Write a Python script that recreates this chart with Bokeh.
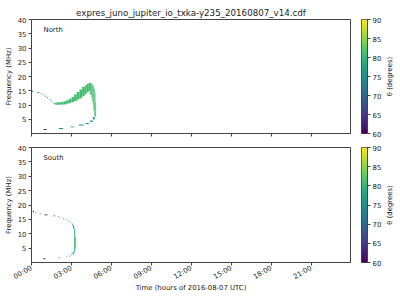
import math
import numpy as np
from bokeh.plotting import figure
from bokeh.models import (ColumnDataSource, Range1d, LinearColorMapper, FixedTicker, Label)
from bokeh.layouts import column, row
from bokeh.palettes import Viridis256
from bokeh.transform import transform
from bokeh.embed import file_html
from bokeh.resources import INLINE

TITLE = "expres_juno_jupiter_io_txka-y235_20160807_v14.cdf"
X_LABEL = "Time (hours of 2016-08-07 UTC)"
Y_LABEL = "Frequency (MHz)"
CB_LABEL = "\u03b8 (degrees)"
hour_ticks = [0, 3, 6, 9, 12, 15, 18, 21]
hour_labels = ["00:00", "03:00", "06:00", "09:00", "12:00", "15:00", "18:00", "21:00"]
freq_ticks = [5, 10, 15, 20, 25, 30, 35, 40]
theta_ticks = [60, 65, 70, 75, 80, 85, 90]
time_range = [0.0, 23.95]
freq_range = [0.0, 40.0]
theta_range = [60.0, 90.0]

# North hemisphere emission cells: time start/end (h), freq low/high (MHz), theta (deg)
north_t0 = [0.00, 0.40, 0.74, 0.92, 1.04, 1.17, 1.37, 1.49, 1.62,
            1.73, 1.85, 2.0, 2.2, 2.4, 2.6, 2.8, 3.0, 3.2, 3.4, 3.6, 3.8, 4.0, 4.15,
            4.30, 4.40, 4.50, 4.55, 4.60, 4.65, 4.70, 4.75, 4.80,
            4.60, 4.40, 4.05, 3.55, 2.93, 2.05, 0.90]
north_t1 = [0.12, 0.60, 0.80, 0.98, 1.10, 1.23, 1.43, 1.55, 1.68,
            1.85, 2.0, 2.2, 2.4, 2.6, 2.8, 3.0, 3.2, 3.4, 3.6, 3.8, 4.0, 4.15, 4.30,
            4.40, 4.50, 4.55, 4.60, 4.65, 4.70, 4.75, 4.80, 4.85,
            4.75, 4.60, 4.30, 3.93, 3.23, 2.38, 1.15]
north_f0 = [14.6, 14.3, 13.8, 13.3, 12.85, 12.4, 11.7, 11.1, 10.5,
            10.2, 10.1, 10.1, 10.15, 10.2, 10.4, 10.7, 11.0, 11.4, 11.9, 12.4, 13.1, 13.9, 14.6,
            14.9, 13.6, 12.6, 11.5, 10.0, 8.0, 6.2, 5.9, 5.8,
            4.9, 4.0, 3.35, 2.85, 2.15, 1.6, 1.25]
north_f1 = [15.0, 14.6, 14.2, 13.7, 13.25, 12.8, 12.1, 11.5, 10.9,
            10.7, 10.9, 11.0, 11.05, 11.3, 11.7, 12.2, 12.8, 13.7, 14.6, 15.4, 16.3, 16.9, 17.5,
            17.8, 17.7, 17.5, 17.3, 16.9, 16.5, 15.7, 14.2, 11.0,
            5.8, 4.6, 3.7, 3.15, 2.45, 1.9, 1.55]
north_theta = [74, 74, 74, 75, 75, 75, 76, 76, 77,
               80, 81, 81, 81, 81, 81, 81, 81, 81, 81, 81, 81, 81, 81,
               81, 81, 81, 81, 81, 81, 81, 81, 81,
               78, 77, 76, 76, 75, 75, 66]

# South hemisphere emission cells
south_t0 = [0.10, 0.30, 0.62, 0.98, 1.65, 2.00, 2.17, 2.37, 2.55, 2.75, 2.92, 3.04, 3.12, 3.20, 3.28,
            3.08, 2.98, 2.80, 2.62, 2.05, 0.90]
south_t1 = [0.18, 0.36, 0.68, 1.20, 1.78, 2.06, 2.23, 2.43, 2.61, 2.81, 2.98, 3.10, 3.20, 3.28, 3.35,
            3.20, 3.04, 2.86, 2.68, 2.11, 1.03]
south_f0 = [17.6, 17.1, 16.75, 16.4, 16.05, 15.75, 15.35, 15.05, 14.75, 14.3, 13.8, 13.0, 11.7, 3.6, 4.8,
            2.9, 2.55, 2.1, 1.8, 1.5, 1.15]
south_f1 = [18.0, 17.4, 17.05, 16.7, 16.35, 16.05, 15.65, 15.35, 15.05, 14.7, 14.2, 13.6, 13.0, 11.7, 8.8,
            3.6, 2.85, 2.4, 2.1, 1.8, 1.45]
south_theta = [60, 60, 61, 60, 65, 73, 74, 75, 75, 76, 77, 77, 78, 80, 82,
               78, 77, 76, 75, 67, 60]

FONT = "DejaVu Sans"
TXT = "#222222"
SPINE = "#444444"
FS = "6.9px"
x_range = Range1d(*time_range)
mapper = LinearColorMapper(palette=Viridis256, low=theta_range[0], high=theta_range[1])


def style_axis(ax):
    ax.axis_line_color = SPINE
    ax.major_tick_line_color = SPINE
    ax.minor_tick_line_color = None
    ax.major_tick_in = 0
    ax.major_tick_out = 3
    ax.major_label_text_font = FONT
    ax.major_label_text_font_size = FS
    ax.major_label_text_color = TXT
    ax.axis_label_text_font = FONT
    ax.axis_label_text_font_size = FS
    ax.axis_label_text_font_style = "normal"
    ax.axis_label_text_color = TXT
    ax.major_label_standoff = 2


def make_panel(height, top, bottom, name, t0, t1, f0, f1, th, show_x):
    p = figure(width=360, height=height, x_range=x_range, y_range=Range1d(*freq_range),
               output_backend="svg", toolbar_location=None,
               min_border_left=31, min_border_right=10, min_border_top=top, min_border_bottom=bottom)
    p.background_fill_color = "white"
    p.border_fill_color = "white"
    p.outline_line_color = SPINE
    p.grid.visible = False
    src = ColumnDataSource(dict(t0=t0, t1=t1, f0=f0, f1=f1, th=th))
    p.quad(left="t0", right="t1", bottom="f0", top="f1", source=src,
           fill_color=transform("th", mapper), line_color=None)
    style_axis(p.xaxis[0])
    style_axis(p.yaxis[0])
    p.yaxis.ticker = FixedTicker(ticks=freq_ticks)
    p.yaxis.axis_label = Y_LABEL
    p.yaxis.axis_label_standoff = 2
    if show_x:
        p.xaxis.ticker = FixedTicker(ticks=hour_ticks)
        p.xaxis.major_label_overrides = dict(zip(hour_ticks, hour_labels))
        p.xaxis.major_label_orientation = math.pi / 6
        p.xaxis.axis_label = X_LABEL
        p.xaxis.axis_label_standoff = -3
    else:
        # tick marks only, no labels (shared time axis)
        p.xaxis.ticker = FixedTicker(ticks=[], minor_ticks=hour_ticks)
        p.xaxis.minor_tick_line_color = SPINE
        p.xaxis.minor_tick_in = 0
        p.xaxis.minor_tick_out = 3
    p.add_layout(Label(x=0.9, y=36.2, text=name, text_font=FONT, text_font_size=FS,
                       text_color=TXT, text_baseline="middle"))
    return p


def make_colorbar(frame_h, top, bottom):
    c = figure(frame_width=6, frame_height=frame_h, x_range=Range1d(0, 1),
               y_range=Range1d(*theta_range),
               output_backend="svg", toolbar_location=None, x_axis_location=None,
               y_axis_location="right",
               min_border_left=1, min_border_right=12, min_border_top=top, min_border_bottom=bottom)
    c.background_fill_color = "white"
    c.border_fill_color = "white"
    c.outline_line_color = SPINE
    c.grid.visible = False
    grad = np.linspace(theta_range[0], theta_range[1], 256).reshape(256, 1)
    c.image(image=[grad], x=0, y=theta_range[0], dw=1, dh=theta_range[1] - theta_range[0],
            color_mapper=mapper)
    style_axis(c.yaxis[0])
    c.yaxis.ticker = FixedTicker(ticks=theta_ticks)
    return c


def make_cb_label(height, top, bottom):
    lf = figure(width=18, height=height, x_range=Range1d(0, 1), y_range=Range1d(0, 1),
                output_backend="svg", toolbar_location=None, x_axis_location=None,
                y_axis_location=None, min_border_left=0, min_border_right=0,
                min_border_top=top, min_border_bottom=bottom)
    lf.outline_line_color = None
    lf.grid.visible = False
    lf.border_fill_color = "white"
    lf.background_fill_color = "white"
    lf.add_layout(Label(x=0.33, y=0.5, text=CB_LABEL, angle=math.pi / 2, text_font=FONT,
                        text_font_size=FS, text_color=TXT, text_align="center",
                        text_baseline="middle"))
    return lf


top = make_panel(140, 19, 7, "North", north_t0, north_t1, north_f0, north_f1, north_theta, False)
top.title.text = TITLE
top.title.align = "center"
top.title.text_font = FONT
top.title.text_font_size = "8.7px"
top.title.text_font_style = "normal"
top.title.text_color = TXT
top.title.standoff = 4
bot = make_panel(160, 7, 38, "South", south_t0, south_t1, south_f0, south_f1, south_theta, True)

row_top = row(top, make_colorbar(114, 19, 7), make_cb_label(140, 19, 7), spacing=0)
row_bot = row(bot, make_colorbar(115, 7, 38), make_cb_label(160, 7, 38), spacing=0)
layout = column(row_top, row_bot, spacing=0)
open("out.html", "w").write(file_html(layout, INLINE))
